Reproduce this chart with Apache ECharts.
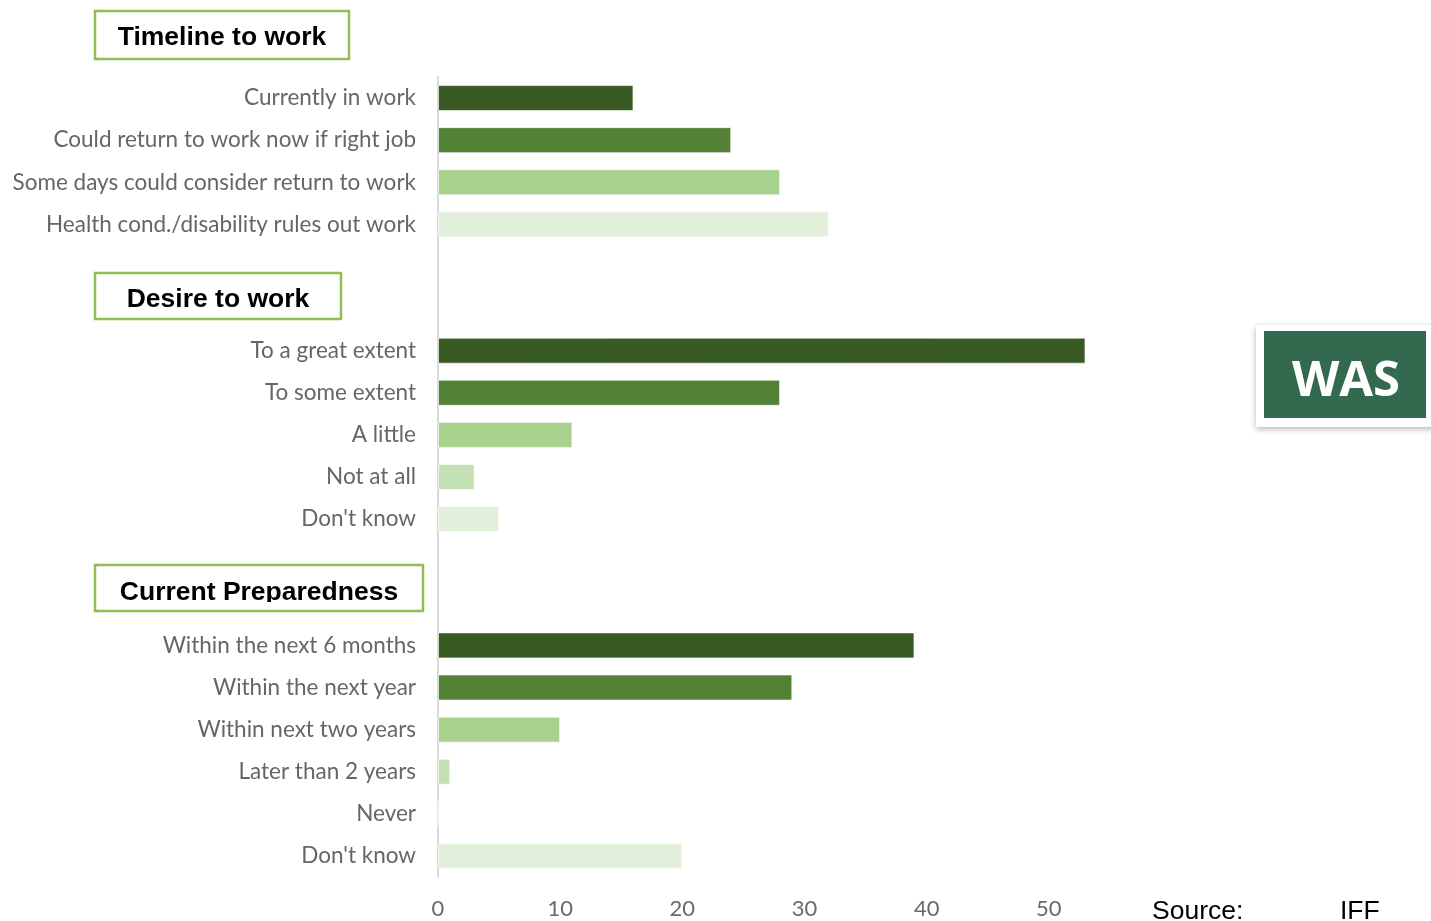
<!DOCTYPE html>
<html>
<head>
<meta charset="utf-8">
<title>Timeline, desire and preparedness to work</title>
<script src="https://cdn.jsdelivr.net/npm/echarts@6/dist/echarts.min.js"></script>
<style>
  html, body { margin: 0; padding: 0; background: #ffffff; }
  #chart { width: 1431px; height: 921px; }
</style>
</head>
<body>
<div id="chart"></div>
<script>
// Row labels, top to bottom; blank entries are the spacer rows under each section heading
// (whitespace keeps them distinct; it is trimmed when drawn)
const categories = [
  'Currently in work',
  'Could return to work now if right job',
  'Some days could consider return to work',
  'Health cond./disability rules out work',
  '', ' ',
  'To a great extent',
  'To some extent',
  'A little',
  'Not at all',
  "Don't know",
  '  ', '   ',
  'Within the next 6 months',
  'Within the next year',
  'Within next two years',
  'Later than 2 years',
  'Never',
  "Don't know "
];

// Percentages per row (null for spacer rows)
const values = [
  16, 24, 28, 32,
  null, null,
  53, 28, 11, 3, 5,
  null, null,
  39, 29, 10, 1, 0, 20
];

const sectionTitles = ['Timeline to work', 'Desire to work', 'Current Preparedness'];
const xTicks = [0, 10, 20, 30, 40, 50];
const sourceLabel = 'Source:';
const sourceName = 'IFF';
const badgeText = 'WAS';

// Shade per row: 0 darkest ... 4 palest
const shadeByRow = [0, 1, 2, 4, -1, -1, 0, 1, 2, 3, 4, -1, -1, 0, 1, 2, 3, 3, 4];
const shades = ['#3a5a24', '#538135', '#a9d18e', '#c5e0b4', '#e2efda'];

const chart = echarts.init(document.getElementById('chart'), null, { renderer: 'canvas' });

const labelFont = 'Lato, "Open Sans", sans-serif';

function headerBox(x, y, w, h, text, clip, dy) {
  const children = [
    {
      type: 'text',
      x: x + w / 2, y: y + h / 2 + dy,
      style: {
        text: text, fill: '#000000',
        font: 'bold 26.5px "Liberation Sans", Arial, sans-serif',
        align: 'center', verticalAlign: 'middle'
      }
    }
  ];
  if (clip) {
    // the heading's descenders are cut off just above the box's lower edge
    children.push({
      type: 'rect',
      shape: { x: x + 2, y: y + h - 9, width: w - 4, height: 12 },
      style: { fill: '#ffffff' }
    });
  }
  children.push({
    type: 'rect',
    shape: { x: x, y: y, width: w, height: h },
    style: { fill: 'none', stroke: '#92bd52', lineWidth: 2.5 }
  });
  return { type: 'group', children: children };
}

const option = {
  backgroundColor: '#ffffff',
  animation: false,
  grid: { left: 438, right: 260, top: 77, bottom: 44, containLabel: false },
  xAxis: {
    type: 'value',
    min: 0, max: 60, interval: 10,
    axisLine: { show: false },
    axisTick: { show: false },
    splitLine: { show: false },
    axisLabel: {
      margin: 21,
      color: '#6a6a6a',
      fontSize: 22,
      fontFamily: labelFont,
      showMaxLabel: false,
      formatter: function (v) { return xTicks.indexOf(v) >= 0 ? String(v) : ''; }
    }
  },
  yAxis: {
    type: 'category',
    inverse: true,
    data: categories,
    axisLine: { show: true, lineStyle: { color: '#d9d9d9', width: 2 } },
    axisTick: { show: false },
    axisLabel: {
      margin: 22,
      color: '#666666',
      fontSize: 22.5,
      fontFamily: labelFont,
      interval: 0,
      formatter: function (v) { return v.trim(); }
    }
  },
  series: [
    {
      type: 'bar',
      data: values,
      barWidth: 26,
      itemStyle: {
        color: function (p) { return shades[Math.max(0, shadeByRow[p.dataIndex])]; },
        borderColor: 'rgba(255,255,255,0.6)',
        borderWidth: 1
      }
    }
  ],
  graphic: [
    headerBox(95, 11, 254, 48, sectionTitles[0], false, 3),
    headerBox(95, 273, 246, 46, sectionTitles[1], false, 4),
    headerBox(95, 565, 328, 46, sectionTitles[2], true, 5),
    {
      type: 'group',
      children: [
        {
          type: 'rect',
          shape: { x: 1256, y: 325, width: 190, height: 102 },
          style: {
            fill: '#ffffff',
            shadowBlur: 6, shadowColor: 'rgba(0,0,0,0.3)', shadowOffsetY: 2, shadowOffsetX: 0
          }
        },
        {
          type: 'rect',
          shape: { x: 1264, y: 331, width: 162, height: 87 },
          style: { fill: '#33694e' }
        },
        {
          type: 'text',
          x: 1346, y: 382,
          style: {
            text: badgeText, fill: '#ffffff',
            font: 'bold 49px "Open Sans", sans-serif',
            align: 'center', verticalAlign: 'middle'
          }
        }
      ]
    },
    {
      type: 'text',
      x: 1152, y: 898,
      style: { text: sourceLabel, fill: '#000000', font: '26.5px "Liberation Sans", Arial, sans-serif' }
    },
    {
      type: 'text',
      x: 1340, y: 898,
      style: { text: sourceName, fill: '#000000', font: '26.5px "Liberation Sans", Arial, sans-serif' }
    }
  ]
};

chart.setOption(option);
</script>
</body>
</html>
